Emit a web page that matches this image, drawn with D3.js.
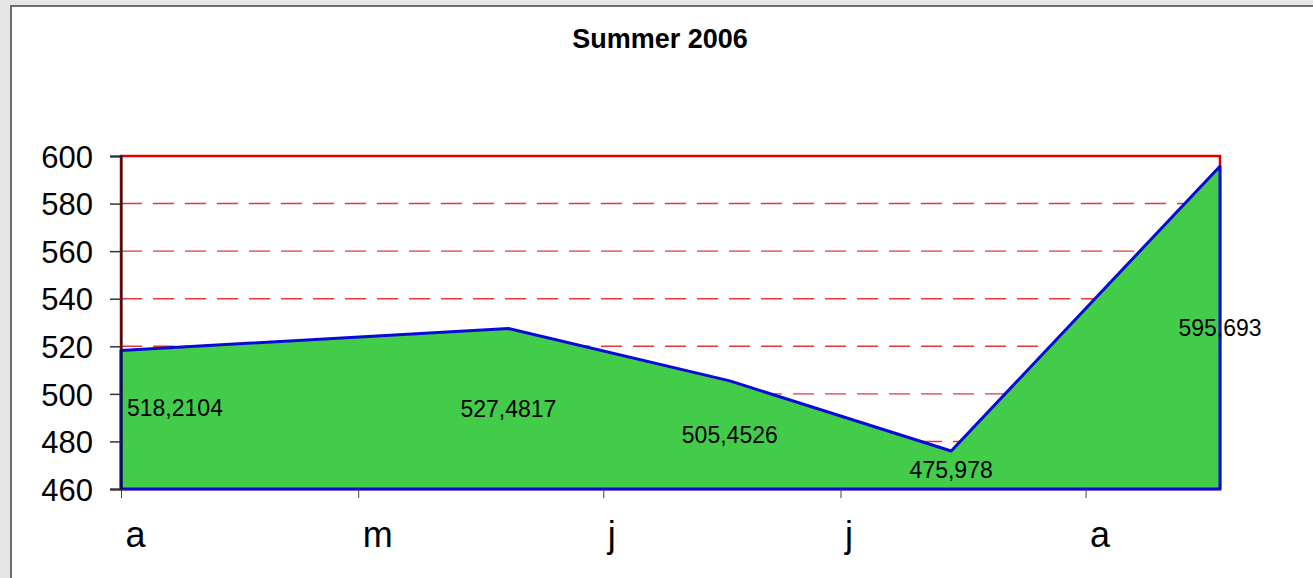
<!DOCTYPE html>
<html>
<head>
<meta charset="utf-8">
<script src="https://cdn.jsdelivr.net/npm/d3@7"></script>
<style>
  body { margin: 0; background: #fff; }
  svg { display: block; font-family: "Liberation Sans", Arial, sans-serif; }
</style>
</head>
<body>
<svg width="1313" height="578"></svg>
<script>
const title = "Summer 2006";
const dates = ["2006-04-01", "2006-05-20", "2006-06-17", "2006-07-15", "2006-08-18"];
const values = [518.2104, 527.4817, 505.4526, 475.978, 595.693];
const tickDates = ["2006-04-01", "2006-05-01", "2006-06-01", "2006-07-01", "2006-08-01"];
const tickLabels = ["a", "m", "j", "j", "a"];
const yTicks = [460, 480, 500, 520, 540, 560, 580, 600];

const svg = d3.select("svg");
const width = +svg.attr("width");
const height = +svg.attr("height");
const margin = { top: 156, right: 93, bottom: 89, left: 121 };
const innerWidth = width - margin.left - margin.right;
const innerHeight = height - margin.top - margin.bottom;

const parse = d3.timeParse("%Y-%m-%d");
const data = dates.map((d, i) => ({ date: parse(d), value: values[i] }));

// chart frame
svg.append("rect").attr("width", width).attr("height", height).attr("fill", "#e6e6e6");
svg.append("rect").attr("x", 11).attr("y", 6).attr("width", width).attr("height", height).attr("fill", "#fff");
svg.append("path")
  .attr("d", `M11,${height}V6H${width}`)
  .attr("fill", "none")
  .attr("stroke", "#6e6e6e")
  .attr("stroke-width", 2);

svg.append("text")
  .attr("x", 660)
  .attr("y", 48)
  .attr("text-anchor", "middle")
  .style("font-size", "27px")
  .style("font-weight", "bold")
  .text(title);

const x = d3.scaleTime()
  .domain(d3.extent(data, d => d.date))
  .range([0, innerWidth]);

const y = d3.scaleLinear()
  .domain([460, 600])
  .range([innerHeight, 0]);

const g = svg.append("g")
  .attr("transform", `translate(${margin.left},${margin.top})`);

// dashed grid
g.selectAll(".grid")
  .data(yTicks.filter(v => v > 460 && v < 600))
  .enter()
  .append("line")
  .attr("x1", 0)
  .attr("x2", innerWidth)
  .attr("y1", d => y(d))
  .attr("y2", d => y(d))
  .attr("stroke", "#ee3333")
  .attr("stroke-width", 1.4)
  .attr("stroke-dasharray", "21,11");

// plot border
g.append("rect")
  .attr("width", innerWidth)
  .attr("height", innerHeight)
  .attr("fill", "none")
  .attr("stroke", "#e00000")
  .attr("stroke-width", 2.5);

const area = d3.area()
  .x(d => x(d.date))
  .y0(y(460))
  .y1(d => y(d.value));

g.append("path")
  .datum(data)
  .attr("d", area)
  .attr("fill", "#43cc4a")
  .attr("stroke", "#0a0ad8")
  .attr("stroke-width", 3)
  .attr("stroke-linejoin", "round");

// axes
const yAxis = g.append("g")
  .call(d3.axisLeft(y).tickValues(yTicks).tickSize(11).tickPadding(17));
yAxis.select(".domain").attr("stroke", "#111").attr("stroke-width", 2);
yAxis.selectAll(".tick line").attr("stroke", "#333").attr("stroke-width", 1.5);
yAxis.selectAll("text")
  .style("font-size", "31px")
  .style("font-family", "'Liberation Sans', Arial, sans-serif")
  .attr("fill", "#000")
  .attr("dy", "0.36em");

const xAxis = g.append("g")
  .attr("transform", `translate(0,${innerHeight})`)
  .call(d3.axisBottom(x)
    .tickValues(tickDates.map(parse))
    .tickSize(9)
    .tickFormat((d, i) => tickLabels[i]));
xAxis.select(".domain").remove();
xAxis.selectAll(".tick line").attr("stroke", "#444");
xAxis.selectAll("text")
  .style("font-size", "36px")
  .style("font-family", "'Liberation Sans', Arial, sans-serif")
  .attr("fill", "#000")
  .attr("text-anchor", "start")
  .attr("x", 4)
  .attr("y", 58)
  .attr("dy", 0);

// value labels, centred in the filled band (first one sits against the left edge)
g.selectAll(".val")
  .data(data)
  .enter()
  .append("text")
  .attr("x", (d, i) => i === 0 ? x(d.date) + 6 : x(d.date))
  .attr("y", (d, i) => (y(d.value) + y(460)) / 2 - (i === 0 ? 12 : 0))
  .attr("dy", "0.36em")
  .attr("text-anchor", (d, i) => i === 0 ? "start" : "middle")
  .style("font-size", "23px")
  .text(d => String(d.value).replace(".", ","));
</script>
</body>
</html>
